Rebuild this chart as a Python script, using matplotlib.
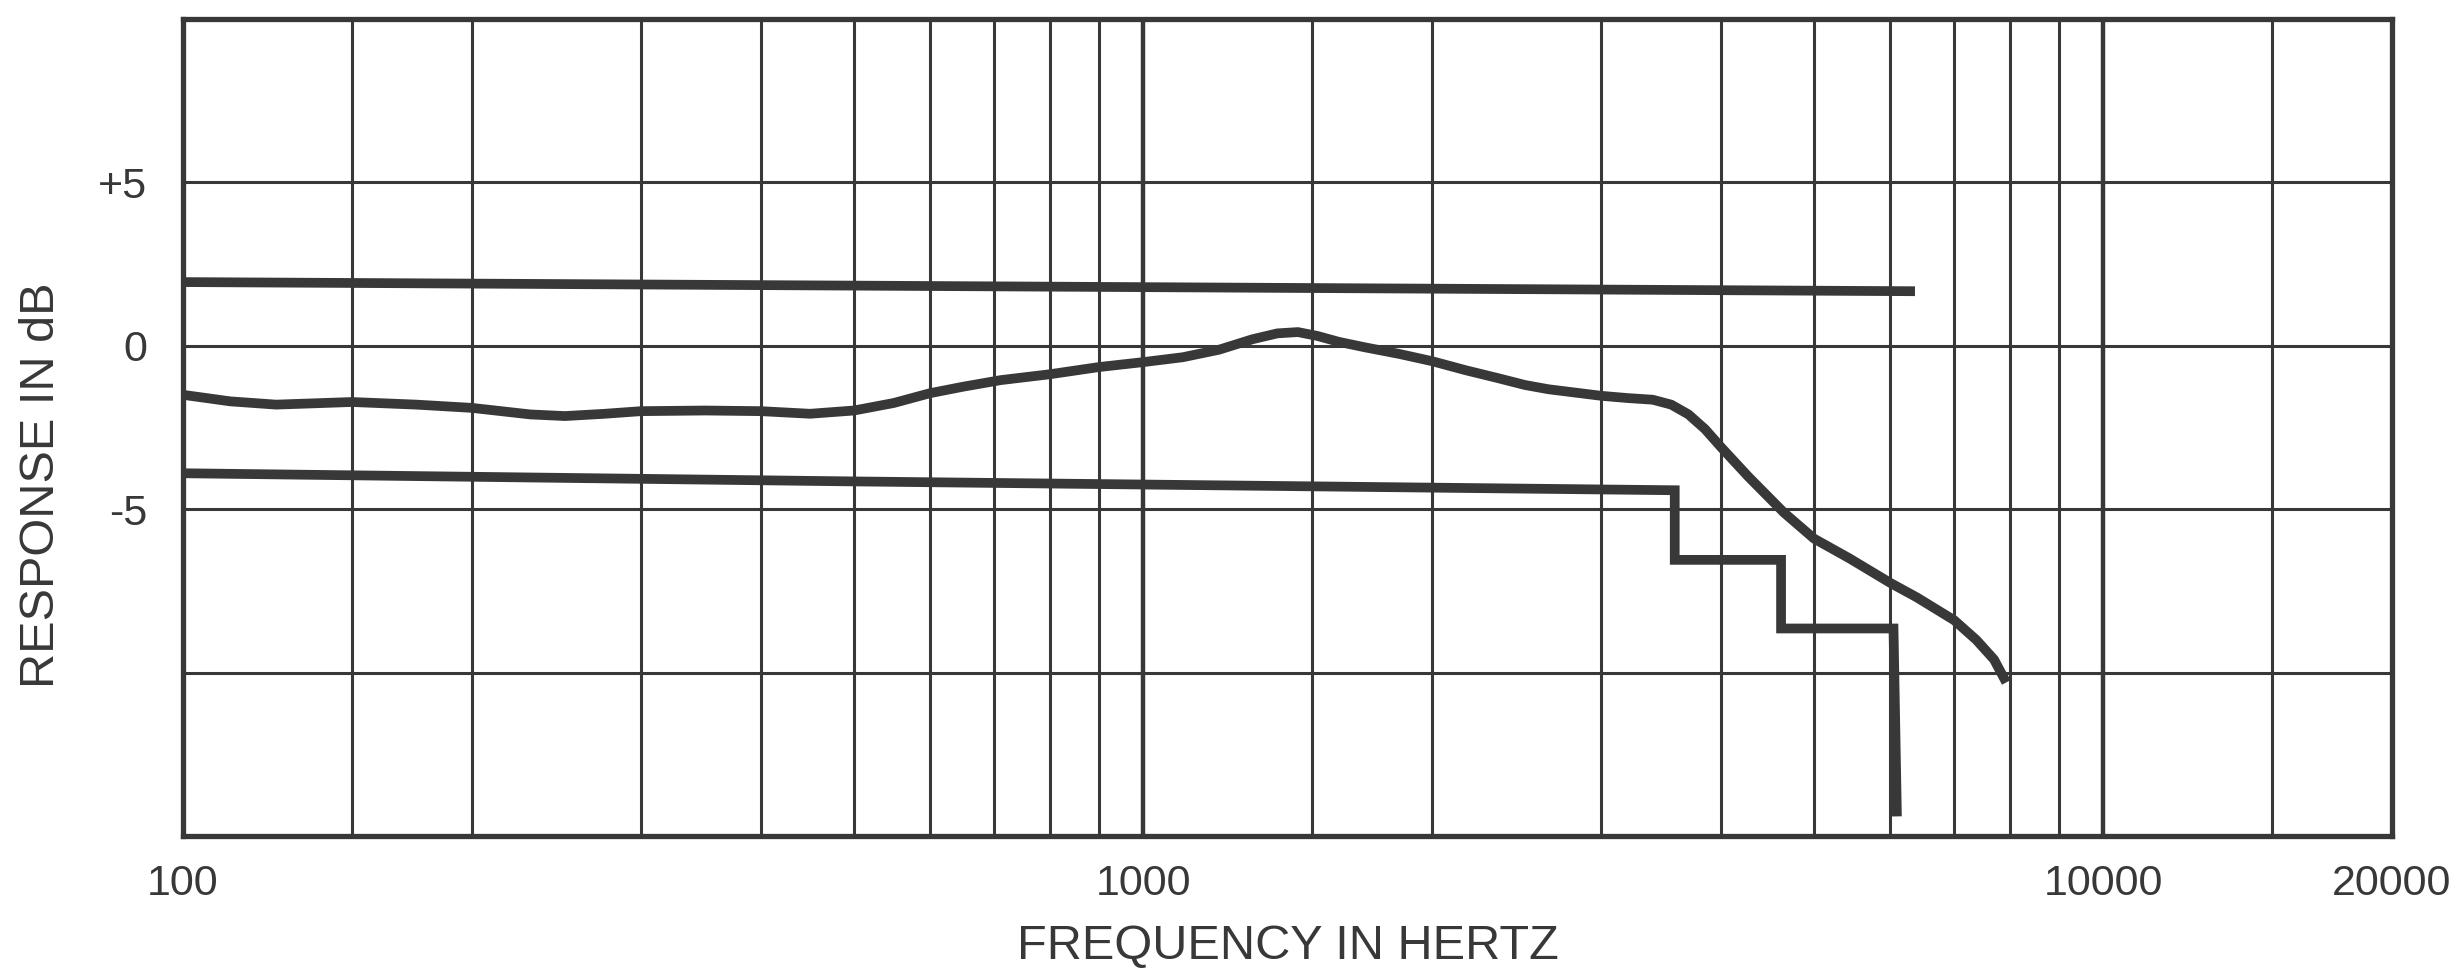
import matplotlib
matplotlib.use('Agg')
import matplotlib.pyplot as plt

# ---- data ----
resp_freq = [100, 112, 125, 150, 175, 200, 230, 250, 275, 300, 350, 400, 450,
             500, 550, 600, 650, 711, 800, 900, 1000, 1100, 1200, 1300, 1380,
             1450, 1520, 1600, 1705, 1850, 2000, 2170, 2336, 2500, 2645, 3000,
             3200, 3396, 3550, 3700, 3850, 4000, 4270, 4650, 5000, 5440, 6000,
             6400, 7000, 7380, 7700, 7930]
resp_db = [-1.5, -1.7, -1.8, -1.72, -1.8, -1.9, -2.1, -2.15, -2.08, -2.0, -1.98,
           -2.0, -2.08, -1.98, -1.75, -1.45, -1.25, -1.05, -0.87, -0.65, -0.5,
           -0.35, -0.12, 0.2, 0.38, 0.42, 0.3, 0.12, -0.05, -0.25, -0.47, -0.75,
           -0.98, -1.2, -1.33, -1.53, -1.6, -1.65, -1.8, -2.1, -2.55, -3.1, -4.0,
           -5.1, -5.9, -6.5, -7.25, -7.7, -8.4, -9.0, -9.6, -10.3]

upper_freq = [100, 6370]
upper_db = [1.95, 1.67]

lower_freq = [100, 500, 3580, 3580, 4620, 4620, 6050, 6100]
lower_db = [-3.9, -4.15, -4.42, -6.55, -6.55, -8.65, -8.65, -14.4]

grid_freqs = [100, 150, 200, 300, 400, 500, 600, 700, 800, 900, 1000, 1500,
              2000, 3000, 4000, 5000, 6000, 7000, 8000, 9000, 10000, 15000, 20000]
decade_freqs = [1000, 10000]
grid_db = [-15, -10, -5, 0, 5, 10]

xtick_vals = [100, 1000, 10000, 20000]
xtick_labels = ['100', '1000', '10000', '20000']
ytick_vals = [5, 0, -5]
ytick_labels = ['+5', '0', '-5']

ink = '#383838'
font = ['Liberation Sans', 'DejaVu Sans']

fig = plt.figure(figsize=(24.56, 9.68), dpi=100)
ax = fig.add_axes([183 / 2456, 1 - 836 / 968, (2392 - 183) / 2456, (836 - 19) / 968])
ax.set_xscale('log')
ax.set_xlim(100, 20000)
ax.set_ylim(-15, 10)

for f in grid_freqs:
    lw = 3.2 if f in decade_freqs else 2.2
    ax.axvline(f, color=ink, lw=lw, zorder=1)
for d in grid_db:
    ax.axhline(d, color=ink, lw=2.2, zorder=1)

ax.plot(upper_freq, upper_db, color=ink, lw=7, solid_capstyle='butt', zorder=3)
ax.plot(lower_freq, lower_db, color=ink, lw=7, solid_capstyle='butt',
        solid_joinstyle='miter', zorder=3)
ax.plot(resp_freq, resp_db, color=ink, lw=7, solid_capstyle='butt',
        solid_joinstyle='round', zorder=3)

for s in ax.spines.values():
    s.set_color(ink)
    s.set_linewidth(3.8)

ax.minorticks_off()
ax.set_xticks(xtick_vals)
ax.set_xticklabels(xtick_labels, fontsize=31, color=ink, family=font)
ax.set_yticks(ytick_vals)
ax.set_yticklabels(ytick_labels, fontsize=31, color=ink, family=font)
ax.tick_params(axis='x', length=0, pad=20)
ax.tick_params(axis='y', length=0, pad=26)
ax.tick_params(which='minor', length=0)

ax.set_xlabel('FREQUENCY IN HERTZ', fontsize=35, color=ink, family=font, va='top')
ax.xaxis.set_label_coords(0.5, -0.108)
ax.set_ylabel('RESPONSE IN dB', fontsize=35, color=ink, family=font, va='center')
ax.yaxis.set_label_coords(-0.064, 0.43)

fig.savefig('out.png', dpi=100, facecolor='white')
